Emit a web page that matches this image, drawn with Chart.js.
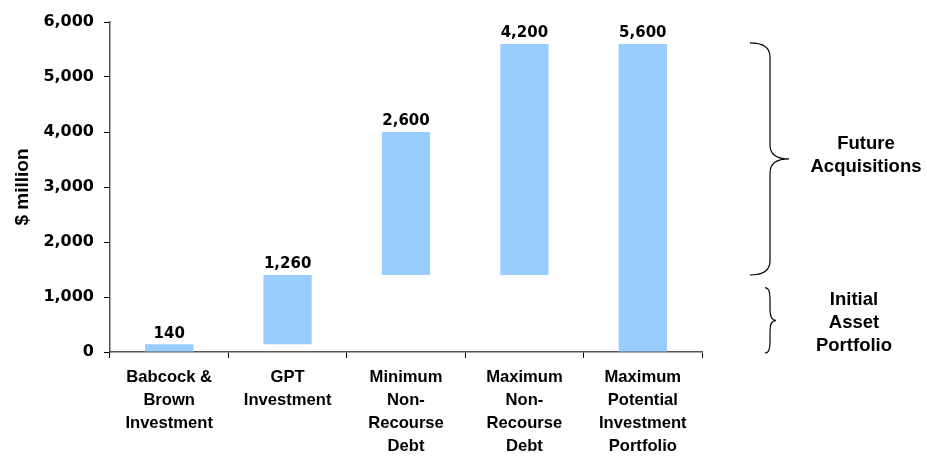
<!DOCTYPE html>
<html>
<head>
<meta charset="utf-8">
<script src="https://cdn.jsdelivr.net/npm/chart.js@4/dist/chart.umd.min.js"></script>
<style>
  html, body { margin: 0; padding: 0; background: #fff; }
  #wrap { width: 927px; height: 456px; }
</style>
</head>
<body>
<div id="wrap"><canvas id="funding"></canvas></div>
<script>
// funding build-up, $ million
const categories = [
  ['Babcock &', 'Brown', 'Investment'],
  ['GPT', 'Investment'],
  ['Minimum', 'Non-', 'Recourse', 'Debt'],
  ['Maximum', 'Non-', 'Recourse', 'Debt'],
  ['Maximum', 'Potential', 'Investment', 'Portfolio']
];
const barStart = [0, 140, 1400, 1400, 0];
const barEnd = [140, 1400, 4000, 5600, 5600];
const yTicks = [0, 1000, 2000, 3000, 4000, 5000, 6000];

// bracket annotations on the right: [from, to] in $ million
const futureRange = [1400, 5620];
const futureText = ['Future', 'Acquisitions'];
const initialRange = [-20, 1170];
const initialText = ['Initial', 'Asset', 'Portfolio'];

const FONT = '"Liberation Sans", Arial, sans-serif';
const NUM_FONT = '"DejaVu Sans", sans-serif';
const fmt = v => v.toLocaleString('en-US');

const floating = barStart.map((s, i) => [s, barEnd[i]]);

// value labels above each bar
const valueLabels = {
  id: 'valueLabels',
  afterDatasetsDraw(chart) {
    const ctx = chart.ctx;
    const meta = chart.getDatasetMeta(0);
    ctx.save();
    ctx.font = 'bold 15px ' + NUM_FONT;
    ctx.fillStyle = '#000';
    ctx.textAlign = 'center';
    ctx.textBaseline = 'bottom';
    meta.data.forEach((bar, i) => {
      const top = chart.scales.y.getPixelForValue(barEnd[i]);
      ctx.fillText(fmt(barEnd[i] - barStart[i]), bar.x, top - 3);
    });
    ctx.restore();
  }
};

function brace(ctx, x0, x1, tip, yTop, yBot) {
  // curly bracket opening to the left, pointing right
  const mid = (yTop + yBot) / 2;
  const r = Math.min(14, (yBot - yTop) / 6);
  ctx.beginPath();
  ctx.moveTo(x0, yTop);
  ctx.quadraticCurveTo(x1, yTop, x1, yTop + r);
  ctx.lineTo(x1, mid - r);
  ctx.quadraticCurveTo(x1, mid, tip, mid);
  ctx.quadraticCurveTo(x1, mid, x1, mid + r);
  ctx.lineTo(x1, yBot - r);
  ctx.quadraticCurveTo(x1, yBot, x0, yBot);
  ctx.stroke();
}

const sideBraces = {
  id: 'sideBraces',
  afterDraw(chart) {
    const ctx = chart.ctx;
    const y = chart.scales.y;
    const right = chart.chartArea.right;
    ctx.save();
    ctx.strokeStyle = '#000';
    ctx.lineWidth = 1.2;
    brace(ctx, right + 48, right + 68, right + 87,
      y.getPixelForValue(futureRange[1]), y.getPixelForValue(futureRange[0]));
    brace(ctx, right + 63, right + 68, right + 74,
      y.getPixelForValue(initialRange[1]), y.getPixelForValue(initialRange[0]));

    ctx.font = 'bold 18.5px ' + FONT;
    ctx.fillStyle = '#000';
    ctx.textAlign = 'center';
    ctx.textBaseline = 'middle';
    futureText.forEach((t, i) => ctx.fillText(t, right + 164, 144 + i * 23));
    initialText.forEach((t, i) => ctx.fillText(t, right + 152, 300 + i * 23));
    ctx.restore();
  }
};

new Chart(document.getElementById('funding'), {
  type: 'bar',
  data: {
    labels: categories,
    datasets: [{
      data: floating,
      backgroundColor: '#99ccff',
      borderWidth: 0,
      barPercentage: 0.8,
      categoryPercentage: 0.51
    }]
  },
  options: {
    responsive: true,
    maintainAspectRatio: false,
    animation: false,
    layout: { padding: { top: 22, right: 225, bottom: 0, left: 0 } },
    plugins: {
      legend: { display: false },
      tooltip: { enabled: false }
    },
    scales: {
      x: {
        grid: {
          display: true,
          drawOnChartArea: false,
          drawTicks: true,
          tickLength: 6,
          color: '#000'
        },
        border: { color: '#555', width: 1.5 },
        ticks: {
          color: '#000',
          font: { family: FONT, size: 16.6, weight: 'bold', lineHeight: 1.39 },
          maxRotation: 0,
          autoSkip: false,
          padding: 8
        },
        afterFit(scale) { scale.height = 104; }
      },
      y: {
        min: 0,
        max: 6000,
        afterBuildTicks(scale) { scale.ticks = yTicks.map(v => ({ value: v })); },
        grid: {
          display: true,
          drawOnChartArea: false,
          drawTicks: true,
          tickLength: 6,
          color: '#000'
        },
        border: { color: '#555', width: 1.5 },
        ticks: {
          color: '#000',
          font: { family: NUM_FONT, size: 16, weight: 'bold' },
          padding: 10,
          callback: v => fmt(v)
        },
        title: {
          display: true,
          text: '$ million',
          color: '#000',
          font: { family: FONT, size: 19, weight: 'bold' },
          padding: { top: 11, bottom: 0 }
        },
        afterFit(scale) { scale.width = 110; }
      }
    }
  },
  plugins: [valueLabels, sideBraces]
});
</script>
</body>
</html>
